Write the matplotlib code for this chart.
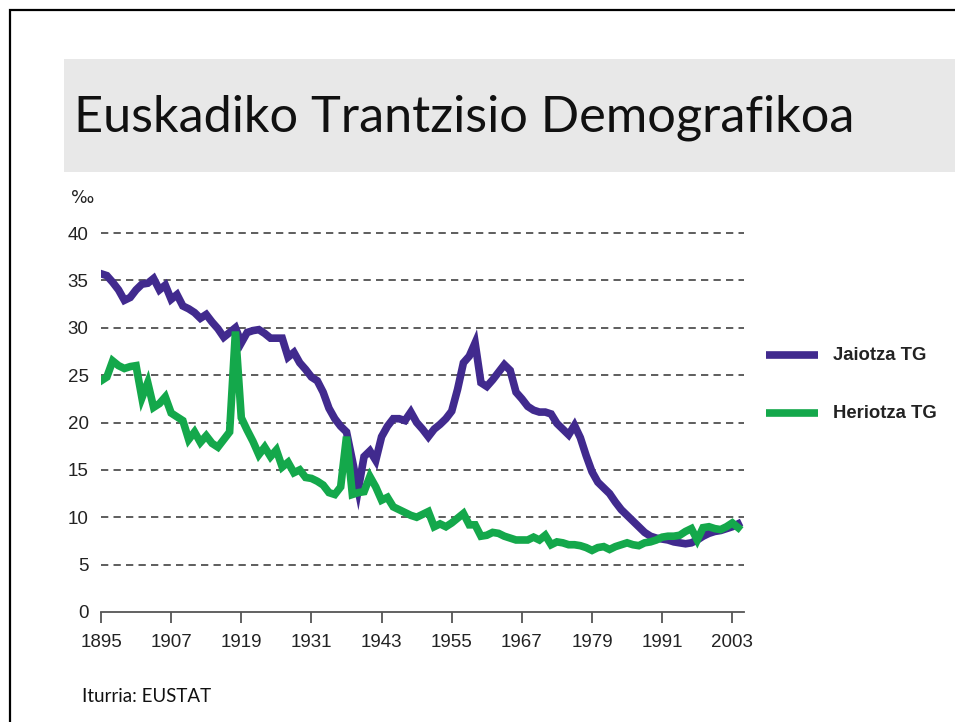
import matplotlib
matplotlib.use("Agg")
import matplotlib.pyplot as plt
from matplotlib.patches import Rectangle
from matplotlib.lines import Line2D

years = list(range(1895, 2005))

jaiotza = [35.7, 35.5, 34.8, 34.0, 32.9, 33.2, 34.0, 34.6, 34.7, 35.2,
           34.0, 34.5, 33.0, 33.5, 32.3, 32.0, 31.6, 31.0, 31.4, 30.6,
           29.9, 29.0, 29.5, 30.0, 28.4, 29.5, 29.7, 29.8, 29.4, 28.9,
           28.9, 28.9, 26.9, 27.4, 26.3, 25.6, 24.8, 24.4, 23.2, 21.5,
           20.4, 19.6, 19.0, 16.0, 12.9, 16.4, 17.0, 16.0, 18.5, 19.6,
           20.4, 20.4, 20.2, 21.1, 20.0, 19.3, 18.5, 19.3, 19.8, 20.4,
           21.2, 23.5, 26.3, 27.0, 28.4, 24.2, 23.8, 24.5, 25.3, 26.1,
           25.5, 23.2, 22.5, 21.7, 21.3, 21.1, 21.1, 20.9, 19.9, 19.3,
           18.7, 19.7, 18.4, 16.5, 14.8, 13.7, 13.1, 12.5, 11.6, 10.8,
           10.2, 9.6, 9.0, 8.4, 8.0, 7.8, 7.7, 7.6, 7.4, 7.3,
           7.2, 7.3, 7.6, 8.0, 8.3, 8.5, 8.6, 8.8, 9.0, 9.3]

heriotza = [24.4, 24.8, 26.5, 26.0, 25.7, 25.9, 26.0, 22.6, 24.2, 21.6,
            22.0, 22.7, 21.0, 20.6, 20.2, 18.2, 19.0, 17.9, 18.6, 17.8,
            17.4, 18.2, 19.0, 29.6, 20.5, 19.2, 18.0, 16.6, 17.4, 16.4,
            17.1, 15.3, 15.8, 14.7, 15.0, 14.2, 14.1, 13.8, 13.4, 12.6,
            12.4, 13.2, 18.5, 12.4, 12.6, 12.7, 14.3, 13.2, 11.8, 12.1,
            11.1, 10.8, 10.5, 10.2, 10.0, 10.3, 10.6, 9.0, 9.3, 9.0,
            9.4, 9.9, 10.4, 9.2, 9.2, 8.0, 8.1, 8.4, 8.3, 8.0,
            7.8, 7.6, 7.6, 7.6, 7.9, 7.6, 8.1, 7.1, 7.4, 7.3,
            7.1, 7.1, 7.0, 6.8, 6.5, 6.8, 6.9, 6.6, 6.9, 7.1,
            7.3, 7.1, 7.0, 7.3, 7.4, 7.6, 7.9, 8.0, 8.0, 8.1,
            8.5, 8.8, 7.6, 8.9, 9.0, 8.8, 8.7, 9.0, 9.4, 8.9]

xticks = [1895, 1907, 1919, 1931, 1943, 1955, 1967, 1979, 1991, 2003]
yticks = [0, 5, 10, 15, 20, 25, 30, 35, 40]
series_names = ["Jaiotza TG", "Heriotza TG"]
title = "Euskadiko Trantzisio Demografikoa"
source = "Iturria: EUSTAT"

W, H = 955, 722
fig = plt.figure(figsize=(W / 100, H / 100), dpi=100)
fig.patch.set_facecolor("white")

def px(x, y):
    return x / W, 1 - y / H

# slide border
fig.patches.append(Rectangle(px(10, 760), 1000 / W, 750 / H, transform=fig.transFigure,
                             fill=False, edgecolor="black", linewidth=1.6))
# title band
fig.patches.append(Rectangle(px(64, 172), (W - 64) / W, (172 - 59) / H, transform=fig.transFigure,
                             facecolor="#e8e8e8", edgecolor="none"))
fig.text(*px(74, 118), title, fontsize=36.4, family="Lato", va="center", ha="left", color="#111111")

# axes
x0, x1 = 101, 744
ytop_px = 612 - 42 * (612 - 233) / 40
ax = fig.add_axes([x0 / W, 1 - 612 / H, (x1 - x0) / W, (612 - ytop_px) / H])
ax.set_xlim(1895, 2005)
ax.set_ylim(0, 42)

purple = "#412a8e"
green = "#14a84b"
ax.plot(years, jaiotza, color=purple, lw=5.5, solid_joinstyle="miter", zorder=3)
ax.plot(years, heriotza, color=green, lw=5.5, solid_joinstyle="miter", zorder=4)

for v in yticks[1:]:
    ax.axhline(v, color="#4a4a4a", lw=1.25, dashes=(4.2, 3.0), zorder=1)

for s in ["top", "right", "left"]:
    ax.spines[s].set_visible(False)
ax.spines["bottom"].set_color("#555555")
ax.spines["bottom"].set_linewidth(1.3)
ax.set_xticks(xticks)
ax.set_xticklabels([str(t) for t in xticks])
ax.set_yticks(yticks)
ax.set_yticklabels([str(t) for t in yticks])
ax.tick_params(axis="x", length=8, width=1.3, color="#555555", direction="out", pad=8,
               labelsize=13.5, labelcolor="#222222")
ax.tick_params(axis="y", length=0, pad=9, labelsize=13.5, labelcolor="#222222")
for lab in ax.get_xticklabels() + ax.get_yticklabels():
    lab.set_family("Liberation Sans")
ax.patch.set_alpha(0)

fig.text(*px(71, 198), "‰", fontsize=12.5, family="DejaVu Sans", color="#222222", va="center")

# legend
for (yy, col, name) in [(355, purple, series_names[0]), (413, green, series_names[1])]:
    fig.lines.append(Line2D([766 / W, 818 / W], [1 - yy / H] * 2, transform=fig.transFigure,
                            color=col, lw=5.5, solid_capstyle="butt"))
    fig.text(833 / W, 1 - yy / H, name, fontsize=13.3, fontweight="bold", family="Liberation Sans",
             va="center", ha="left", color="#222222")

fig.text(*px(82, 697), source, fontsize=13.5, family="Lato", va="center", ha="left", color="#111111")

fig.savefig("out.png", dpi=100)
